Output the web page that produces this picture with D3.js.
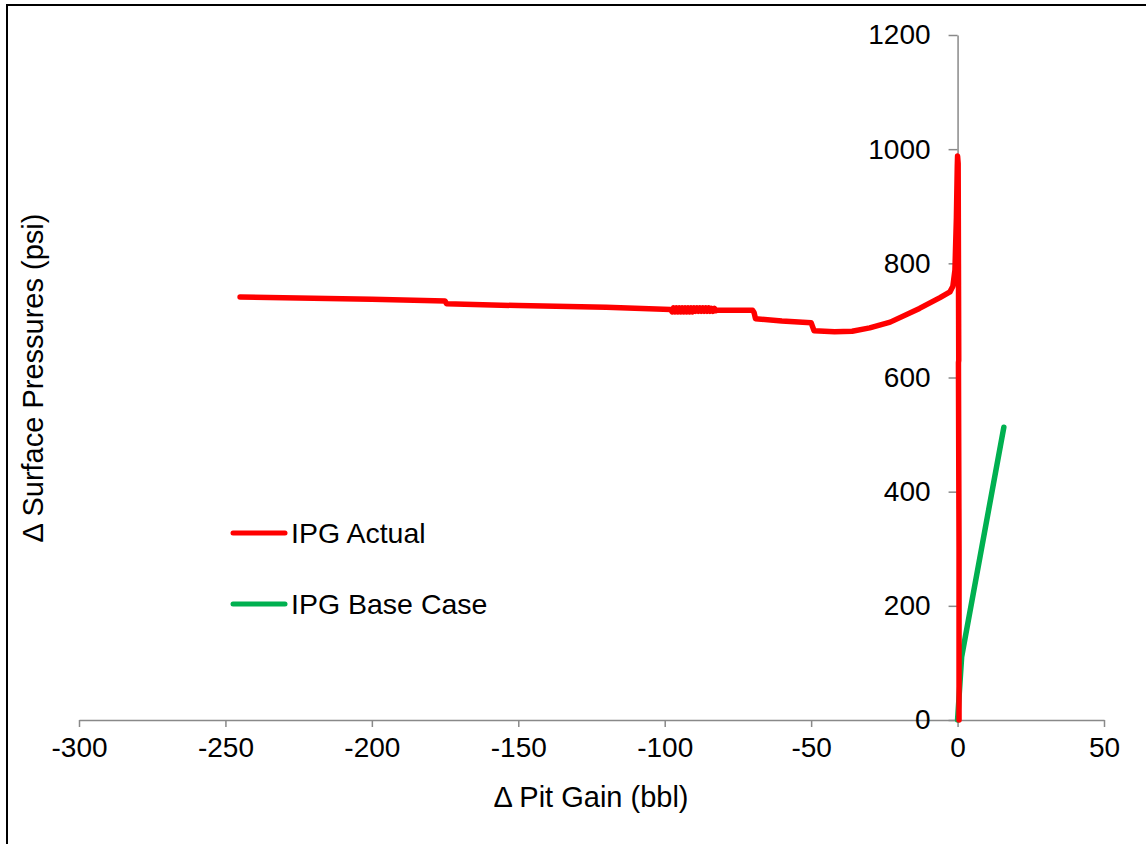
<!DOCTYPE html>
<html>
<head>
<meta charset="utf-8">
<script src="https://cdn.jsdelivr.net/npm/d3@7"></script>
<style>
  html, body { margin: 0; padding: 0; background: #fff; }
  svg { display: block; font-family: "Liberation Sans", Arial, sans-serif; }
</style>
</head>
<body>
<svg id="chart" width="1146" height="844"></svg>
<script>
// Δ Pit Gain (bbl) vs Δ Surface Pressures (psi)
const actualGain = [-245, -200, -175, -174.5, -150, -120, -98,
  -97.5, -97, -96.5, -96, -95.5, -95, -94.5, -94, -93.5, -93, -92.5, -92, -91.5, -91, -90.5, -90,
  -89.5, -89, -88.5, -88, -87.5, -87, -86.5, -86, -85.5, -85, -84.5, -84, -83.5, -83, -82.5, -82,
  -70, -69.5, -69, -60, -50, -49.5, -49, -42, -36, -30, -23, -13, -6, -2.6, -1.6, -0.9, -0.4, -0.1, 0, 0.2, 0.3, 0.4, 0.3, 0.5, 0.5];
const actualPsi  = [741, 737, 734, 729, 726, 723, 719,
  715, 722, 715, 722, 715, 722, 715, 722, 715, 722, 715, 722, 715, 722, 715, 722,
  716, 722, 716, 722, 716, 722, 716, 722, 716, 722, 716, 721, 716, 721, 717, 718,
  718, 714, 703, 699, 696, 689, 682, 680, 681, 687, 697, 721, 740, 750, 760, 788, 880, 970, 988, 975, 800, 630, 626, 300, 0];
const baseGain = [0, 1.4, 15.8];
const basePsi  = [0, 111, 513];

const xTicks = [-300, -250, -200, -150, -100, -50, 0, 50];
const yTicks = [0, 200, 400, 600, 800, 1000, 1200];
const seriesNames = ["IPG Actual", "IPG Base Case"];
const seriesColors = ["#ff0000", "#00b050"];

const svg = d3.select("#chart");

// outer frame
svg.append("rect")
  .attr("x", 7).attr("y", 5).attr("width", 1300).attr("height", 1000)
  .attr("fill", "none").attr("stroke", "#000").attr("stroke-width", 2);

const x = d3.scaleLinear().domain([-300, 50]).range([79, 1104]);
const y = d3.scaleLinear().domain([0, 1200]).range([720, 35]);

// x axis along y = 0
const xAxis = svg.append("g")
  .attr("transform", `translate(0,${y(0)})`)
  .call(d3.axisBottom(x).tickValues(xTicks).tickSize(7).tickSizeOuter(0).tickPadding(8).tickFormat(d => String(d)));

// y axis along x = 0
const yAxis = svg.append("g")
  .attr("transform", `translate(${x(0)},0)`)
  .call(d3.axisLeft(y).tickValues(yTicks).tickSize(9).tickSizeOuter(0).tickPadding(18).tickFormat(d => String(d)));

[xAxis, yAxis].forEach(g => {
  g.select(".domain").attr("stroke", "#898989").attr("stroke-width", 1.5);
  g.selectAll(".tick line").attr("stroke", "#898989").attr("stroke-width", 1.5);
  g.selectAll(".tick text").attr("fill", "#000").attr("font-size", 28)
    .attr("font-family", "Liberation Sans, Arial, sans-serif");
});
xAxis.selectAll(".tick text").attr("dy", "0.8em");

const line = d3.line().x(d => x(d[0])).y(d => y(d[1]));

const actual = actualGain.map((g, i) => [g, actualPsi[i]]);
const base = baseGain.map((g, i) => [g, basePsi[i]]);

svg.append("path").datum(base)
  .attr("d", line).attr("fill", "none")
  .attr("stroke", seriesColors[1]).attr("stroke-width", 5.5)
  .attr("stroke-linejoin", "round").attr("stroke-linecap", "round");

svg.append("path").datum(actual)
  .attr("d", line).attr("fill", "none")
  .attr("stroke", seriesColors[0]).attr("stroke-width", 5.5)
  .attr("stroke-linejoin", "round").attr("stroke-linecap", "round");

// legend
const legend = svg.append("g");
seriesNames.forEach((name, i) => {
  const ly = 533 + i * 71;
  legend.append("line")
    .attr("x1", 233).attr("x2", 285).attr("y1", ly).attr("y2", ly)
    .attr("stroke", seriesColors[i]).attr("stroke-width", 5).attr("stroke-linecap", "round");
  legend.append("text")
    .attr("x", 291).attr("y", ly).attr("dy", "0.35em")
    .attr("font-size", 28.5).attr("fill", "#000")
    .text(name);
});

// axis titles
svg.append("text")
  .attr("x", 591).attr("y", 807)
  .attr("text-anchor", "middle").attr("font-size", 29).attr("fill", "#000")
  .text("Δ Pit Gain (bbl)");

svg.append("text")
  .attr("transform", "translate(43,378) rotate(-90)")
  .attr("text-anchor", "middle").attr("font-size", 29).attr("fill", "#000")
  .text("Δ Surface Pressures (psi)");
</script>
</body>
</html>
